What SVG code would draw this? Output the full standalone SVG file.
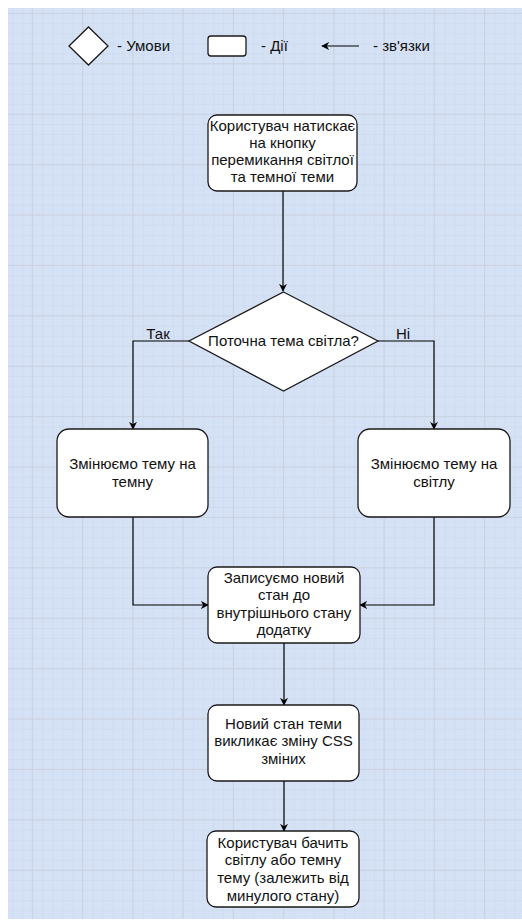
<svg xmlns="http://www.w3.org/2000/svg" width="522" height="921" viewBox="0 0 522 921">
<defs>
<pattern id="minor" patternUnits="userSpaceOnUse" x="2.15" y="3.1" width="10.05" height="10.08">
<path d="M0 0.5H10.05M0.5 0V10.08" fill="none" stroke="#cfdbef" stroke-width="1"/>
</pattern>
<pattern id="major" patternUnits="userSpaceOnUse" x="31.8" y="12.9" width="50.25" height="50.4">
<path d="M0 0.5H50.25M0.5 0V50.4" fill="none" stroke="#cbd2e0" stroke-width="1"/>
</pattern>
<marker id="arr" viewBox="0 0 10 10" refX="9" refY="5" markerWidth="8" markerHeight="8" markerUnits="userSpaceOnUse" orient="auto">
<path d="M0 0L10 5L0 10L3 5Z" fill="#000"/>
</marker>
</defs>
<style>
.node rect,.node polygon{fill:#fff;stroke:#1a1a1a;stroke-width:1.3}
text{font-family:"Liberation Sans",Arial,sans-serif;font-size:15px;fill:#111}
.c{text-anchor:middle}
.conn path{fill:none;stroke:#000;stroke-width:1.2}
</style>
<rect width="522" height="921" fill="#fff"/>
<rect x="8" y="8" width="514" height="911" fill="#d5e1f4"/>
<rect x="8" y="8" width="514" height="911" fill="url(#minor)"/>
<rect x="8" y="8" width="514" height="911" fill="url(#major)"/>

<g id="legend">
<g class="node"><polygon points="88.5,27 108,46 88.5,65 69,46"/></g>
<text x="117" y="51">- Умови</text>
<g class="node"><rect x="208" y="36" width="38" height="20" rx="3"/></g>
<text x="261" y="51">- Дії</text>
<g class="conn"><path d="M359 46H322" marker-end="url(#arr)"/></g>
<text x="373" y="51">- зв'язки</text>
</g>

<g class="conn" id="connectors">
<path d="M283 191V291" marker-end="url(#arr)"/>
<path d="M189 341H133V429" marker-end="url(#arr)"/>
<path d="M378 341H434V429" marker-end="url(#arr)"/>
<path d="M133 517V605H208" marker-end="url(#arr)"/>
<path d="M434 517V605H360" marker-end="url(#arr)"/>
<path d="M284 643V705" marker-end="url(#arr)"/>
<path d="M284 781V831" marker-end="url(#arr)"/>
</g>
<text x="158" y="339" class="c">Так</text>
<text x="403" y="339" class="c">Ні</text>

<g id="start" class="node">
<rect x="208" y="115" width="149" height="76" rx="9"/>
<text x="282.5" y="131" class="c">Користувач натискає</text>
<text x="282.5" y="148" class="c">на кнопку</text>
<text x="282.5" y="165" class="c">перемикання світлої</text>
<text x="282.5" y="182" class="c">та темної теми</text>
</g>

<g id="decision" class="node">
<polygon points="283.5,292 378,341 283.5,391 189,341"/>
<text x="283.5" y="346" class="c">Поточна тема світла?</text>
</g>

<g id="dark" class="node">
<rect x="57" y="429" width="151" height="88" rx="12"/>
<text x="132.5" y="469" class="c">Змінюємо тему на</text>
<text x="132.5" y="487" class="c">темну</text>
</g>

<g id="light" class="node">
<rect x="358" y="429" width="152" height="88" rx="12"/>
<text x="434" y="469" class="c">Змінюємо тему на</text>
<text x="434" y="487" class="c">світлу</text>
</g>

<g id="save" class="node">
<rect x="208" y="567" width="152" height="76" rx="9"/>
<text x="284" y="583" class="c">Записуємо новий</text>
<text x="284" y="600" class="c">стан до</text>
<text x="284" y="618" class="c">внутрішнього стану</text>
<text x="284" y="635" class="c">додатку</text>
</g>

<g id="css" class="node">
<rect x="208" y="705" width="151" height="76" rx="9"/>
<text x="283.5" y="729" class="c">Новий стан теми</text>
<text x="283.5" y="746" class="c">викликає зміну CSS</text>
<text x="283.5" y="764" class="c">зміних</text>
</g>

<g id="result" class="node">
<rect x="207" y="831" width="152" height="76" rx="9"/>
<text x="283" y="848" class="c">Користувач бачить</text>
<text x="283" y="865" class="c">світлу або темну</text>
<text x="283" y="883" class="c">тему (залежить від</text>
<text x="283" y="901" class="c">минулого стану)</text>
</g>
</svg>
